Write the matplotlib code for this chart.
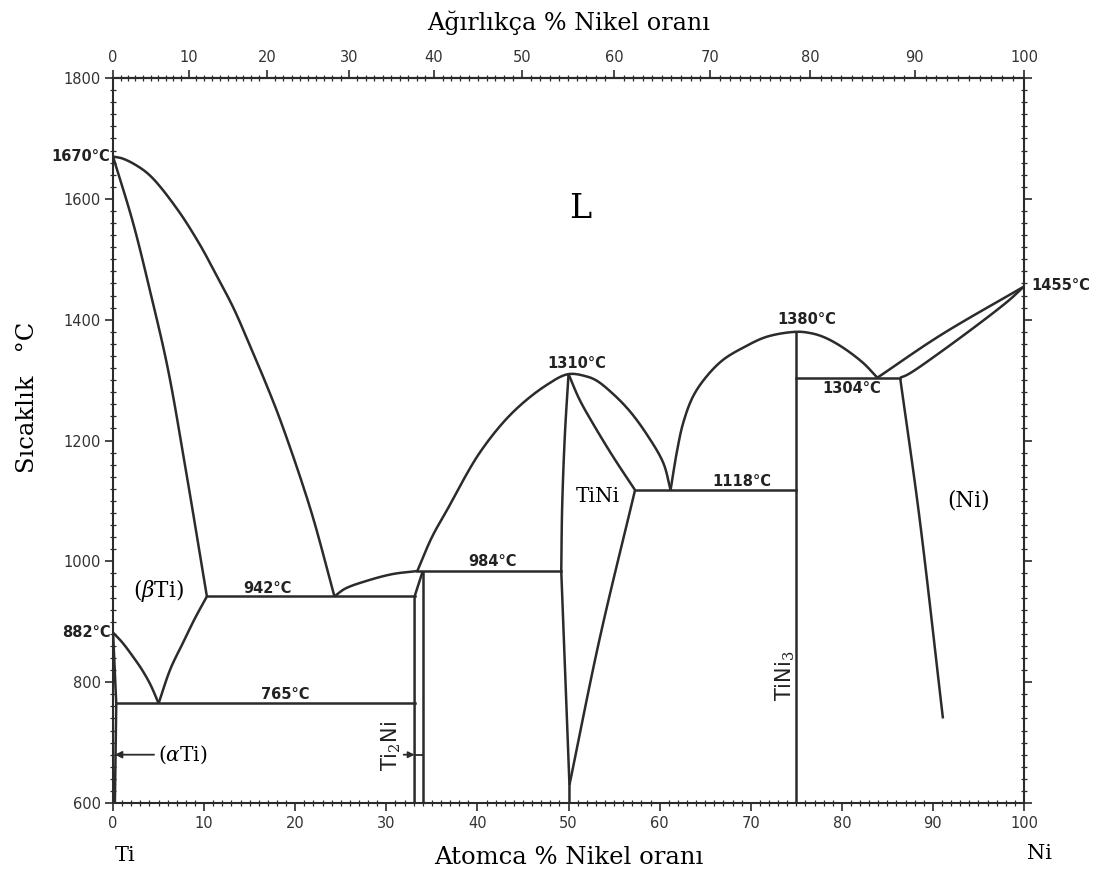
import matplotlib
matplotlib.use('Agg')
import matplotlib.pyplot as plt
import numpy as np
from matplotlib.ticker import MultipleLocator, FixedLocator

plt.rcParams['mathtext.fontset'] = 'dejavuserif'

LINE = '#2b2b2b'
SERIF = 'DejaVu Serif'
SANS = 'DejaVu Sans'

# Liquidus / solidus / solvus curves (at% Ni, temperature C)
ti_liq_x = [0, 1.0, 2.5, 4.1, 7.0, 9.5, 11.4, 13.2, 15.0, 16.9, 18.5, 21.7, 24.3]
ti_liq_t = [1670, 1667, 1656, 1638, 1584, 1525, 1472, 1420, 1358, 1290, 1228, 1085, 942]

beta_sol_x = [0, 2.2, 4.1, 6.0, 8.0, 10.3]
beta_sol_t = [1670, 1560, 1445, 1320, 1150, 942]

beta_transus_x = [0, 1.0, 2.2, 3.2, 4.1, 5.0]
beta_transus_t = [882, 866, 842, 820, 796, 765]

beta_solvus_x = [5.0, 6.3, 7.7, 9.0, 10.3]
beta_solvus_t = [765, 822, 866, 906, 942]

alpha_x = [0, 0.35, 0.2]
alpha_t = [882, 765, 600]

eut_liq_x = [24.3, 25.5, 27.9, 30.7, 33.4]
eut_liq_t = [942, 955, 968, 979, 984]

tini_liq_l_x = [33.4, 35.0, 36.7, 40.3, 43.9, 47.6, 50.0]
tini_liq_l_t = [984, 1040, 1086, 1181, 1247, 1292, 1310]

tini_liq_r_x = [50.0, 52.0, 53.1, 54.9, 56.7, 58.6, 60.4, 61.2]
tini_liq_r_t = [1310, 1306, 1299, 1277, 1249, 1210, 1163, 1118]

tini_left_up_x = [50.0, 49.6, 49.3, 49.2]
tini_left_up_t = [1310, 1210, 1090, 984]
tini_left_lo_x = [49.2, 50.1, 50.1]
tini_left_lo_t = [984, 630, 600]

tini_right_up_x = [50.0, 51.2, 52.8, 54.9, 57.3]
tini_right_up_t = [1310, 1268, 1225, 1173, 1118]
tini_right_lo_x = [57.3, 53.4, 50.1]
tini_right_lo_t = [1118, 871, 630]

tini3_liq_l_x = [61.2, 61.9, 62.6, 63.7, 65.2, 67.0, 69.2, 71.8, 75.0]
tini3_liq_l_t = [1118, 1182, 1230, 1274, 1307, 1334, 1354, 1372, 1380]

tini3_liq_r_x = [75.0, 76.5, 77.9, 79.8, 82.3, 83.9]
tini3_liq_r_t = [1380, 1378, 1372, 1357, 1329, 1304]

ni_liq_x = [83.9, 90.8, 100]
ni_liq_t = [1304, 1374, 1455]

ni_sol_x = [86.4, 87.2, 90.8, 98.1, 100]
ni_sol_t = [1304, 1309, 1346, 1429, 1455]

ni_solvus_x = [86.4, 88.5, 91.1]
ni_solvus_t = [1304, 1075, 740]

ti2ni_l_x = [33.1, 33.1, 34.0]
ti2ni_l_t = [600, 942, 984]
ti2ni_r_x = [34.0, 34.0]
ti2ni_r_t = [600, 984]

tini3_x = [75.0, 75.0]
tini3_t = [600, 1380]

# Invariant horizontals: (temperature, x start, x end)
iso_t = [765, 942, 984, 1118, 1304]
iso_x0 = [0.35, 10.3, 33.4, 57.3, 75.0]
iso_x1 = [33.1, 33.1, 49.2, 75.0, 86.4]

# (x, T, smooth?)
curves = [
    (ti_liq_x, ti_liq_t, True), (beta_sol_x, beta_sol_t, True),
    (beta_transus_x, beta_transus_t, True), (beta_solvus_x, beta_solvus_t, True),
    (alpha_x, alpha_t, False), (eut_liq_x, eut_liq_t, True),
    (tini_liq_l_x + tini_liq_r_x[1:], tini_liq_l_t + tini_liq_r_t[1:], True),
    (tini_left_up_x, tini_left_up_t, True), (tini_left_lo_x, tini_left_lo_t, False),
    (tini_right_up_x, tini_right_up_t, True), (tini_right_lo_x, tini_right_lo_t, True),
    (tini3_liq_l_x + tini3_liq_r_x[1:], tini3_liq_l_t + tini3_liq_r_t[1:], True),
    (ni_liq_x, ni_liq_t, True), (ni_sol_x, ni_sol_t, True), (ni_solvus_x, ni_solvus_t, True),
    (ti2ni_l_x, ti2ni_l_t, False), (ti2ni_r_x, ti2ni_r_t, False), (tini3_x, tini3_t, False),
]

M_TI, M_NI = 47.87, 58.69


def at_to_wt(a):
    a = np.asarray(a, dtype=float)
    return 100 * a * M_NI / (a * M_NI + (100 - a) * M_TI)


def wt_to_at(w):
    w = np.asarray(w, dtype=float)
    return 100 * (w / M_NI) / (w / M_NI + (100 - w) / M_TI)


def smooth(xs, ts, n=24):
    # centripetal Catmull-Rom through the read points (drawing only)
    p = np.column_stack([np.asarray(xs, float) / 100, np.asarray(ts, float) / 1200])
    if len(p) < 3:
        return xs, ts
    p = np.vstack([2 * p[0] - p[1], p, 2 * p[-1] - p[-2]])
    out = []
    for i in range(1, len(p) - 2):
        p0, p1, p2, p3 = p[i - 1], p[i], p[i + 1], p[i + 2]
        t0 = 0.0
        t1 = t0 + np.linalg.norm(p1 - p0) ** 0.5
        t2 = t1 + np.linalg.norm(p2 - p1) ** 0.5
        t3 = t2 + np.linalg.norm(p3 - p2) ** 0.5
        t = np.linspace(t1, t2, n)[:, None]
        a1 = (t1 - t) / (t1 - t0) * p0 + (t - t0) / (t1 - t0) * p1
        a2 = (t2 - t) / (t2 - t1) * p1 + (t - t1) / (t2 - t1) * p2
        a3 = (t3 - t) / (t3 - t2) * p2 + (t - t2) / (t3 - t2) * p3
        b1 = (t2 - t) / (t2 - t0) * a1 + (t - t0) / (t2 - t0) * a2
        b2 = (t3 - t) / (t3 - t1) * a2 + (t - t1) / (t3 - t1) * a3
        c = (t2 - t) / (t2 - t1) * b1 + (t - t1) / (t2 - t1) * b2
        out.append(c if i == len(p) - 3 else c[:-1])
    c = np.vstack(out)
    return c[:, 0] * 100, c[:, 1] * 1200


fig = plt.figure(figsize=(11.03, 8.74), dpi=100)
ax = fig.add_axes([0.1025, 0.0812, 0.8259, 0.8295])

for xs, ts, sm in curves:
    px, pt = smooth(xs, ts) if sm else (xs, ts)
    ax.plot(px, pt, color=LINE, lw=1.8, solid_capstyle='butt', solid_joinstyle='round')
for t, x0, x1 in zip(iso_t, iso_x0, iso_x1):
    ax.plot([x0, x1], [t, t], color=LINE, lw=1.8)

ax.set_xlim(0, 100)
ax.set_ylim(600, 1800)
for s in ax.spines.values():
    s.set_linewidth(1.5)
    s.set_color(LINE)

ax.xaxis.set_major_locator(MultipleLocator(10))
ax.xaxis.set_minor_locator(MultipleLocator(1))
ax.yaxis.set_major_locator(MultipleLocator(200))
ax.yaxis.set_minor_locator(MultipleLocator(20))
ax.tick_params(which='major', direction='out', length=6, width=1.2, colors=LINE,
               labelsize=10.5, right=True, top=False)
ax.tick_params(which='minor', direction='inout', length=4, width=0.9, colors=LINE,
               right=True, top=False)
ax.tick_params(axis='y', which='major', pad=3)
for lab in ax.get_xticklabels() + ax.get_yticklabels():
    lab.set_family(SANS)
    lab.set_color('#333333')

top = ax.secondary_xaxis('top', functions=(at_to_wt, wt_to_at))
top.xaxis.set_major_locator(FixedLocator(np.arange(0, 101, 10)))
top.xaxis.set_minor_locator(FixedLocator(np.arange(0, 101, 1)))
top.tick_params(which='major', direction='out', length=6, width=1.2, colors=LINE, labelsize=10.5)
top.tick_params(which='minor', direction='inout', length=4, width=0.9, colors=LINE)
top.spines['top'].set_linewidth(1.5)
for lab in top.get_xticklabels():
    lab.set_color('#333333')

ax.set_xlabel('Atomca % Nikel oranı', family=SERIF, fontsize=17.5)
ax.xaxis.set_label_coords(0.5, -0.0745)
ax.xaxis.label.set_va('center')
top.set_xlabel('Ağırlıkça % Nikel oranı', family=SERIF, fontsize=17.2)
top.xaxis.set_label_coords(0.5, 1.076, transform=ax.transAxes)
top.xaxis.label.set_va('center')
ax.set_ylabel('Sıcaklık   °C', family=SERIF, fontsize=17.5)
ax.yaxis.set_label_coords(-0.094, 0.56)
ax.yaxis.label.set_va('center')

# Temperature labels
tk = dict(family=SANS, fontsize=10.5, color='#222222', fontweight='bold')
ax.text(-0.3, 1670, '1670°C', ha='right', va='center', clip_on=False, **tk)
ax.text(-0.3, 882, '882°C', ha='right', va='center', clip_on=False, **tk)
ax.text(100.8, 1457, '1455°C', ha='left', va='center', clip_on=False, **tk)
ax.text(50.9, 1327, '1310°C', ha='center', va='center', **tk)
ax.text(76.2, 1400, '1380°C', ha='center', va='center', **tk)
ax.text(81.1, 1286, '1304°C', ha='center', va='center', **tk)
ax.text(69.0, 1133, '1118°C', ha='center', va='center', **tk)
ax.text(41.7, 999, '984°C', ha='center', va='center', **tk)
ax.text(17.0, 955, '942°C', ha='center', va='center', **tk)
ax.text(18.9, 780, '765°C', ha='center', va='center', **tk)

# Phase labels
ax.text(51.3, 1583, 'L', family=SERIF, fontsize=24, ha='center', va='center')
ax.text(5.0, 951, r'($\it{\beta}$Ti)', family=SERIF, fontsize=15.5, ha='center', va='center')
ax.text(53.2, 1108, 'TiNi', family=SERIF, fontsize=14.5, ha='center', va='center')
ax.text(93.9, 1100, '(Ni)', family=SERIF, fontsize=15.5, ha='center', va='center')
ax.text(7.7, 680, r'($\it{\alpha}$Ti)', family=SERIF, fontsize=14.5, ha='center', va='center')
ax.annotate('', xy=(0.2, 680), xytext=(4.5, 680),
            arrowprops=dict(arrowstyle='-|>', color=LINE, lw=1.3, shrinkA=0, shrinkB=0,
                            mutation_scale=10))
ax.text(30.6, 694, r'Ti$_2$Ni', family=SANS, fontsize=15, rotation=90,
        ha='center', va='center', color='#222222')
ax.annotate('', xy=(33.1, 680), xytext=(31.9, 680),
            arrowprops=dict(arrowstyle='-|>', color=LINE, lw=1.3, shrinkA=0, shrinkB=0,
                            mutation_scale=9))
ax.plot([33.1, 34.0], [680, 680], color=LINE, lw=1.3)
ax.text(73.8, 811, r'TiNi$_3$', family=SANS, fontsize=15, rotation=90,
        ha='center', va='center', color='#222222')

ax.text(0.013, -0.072, 'Ti', transform=ax.transAxes, family=SERIF, fontsize=15,
        ha='center', va='center')
ax.text(1.0165, -0.070, 'Ni', transform=ax.transAxes, family=SERIF, fontsize=15,
        ha='center', va='center')

fig.savefig('out.png', dpi=100)
